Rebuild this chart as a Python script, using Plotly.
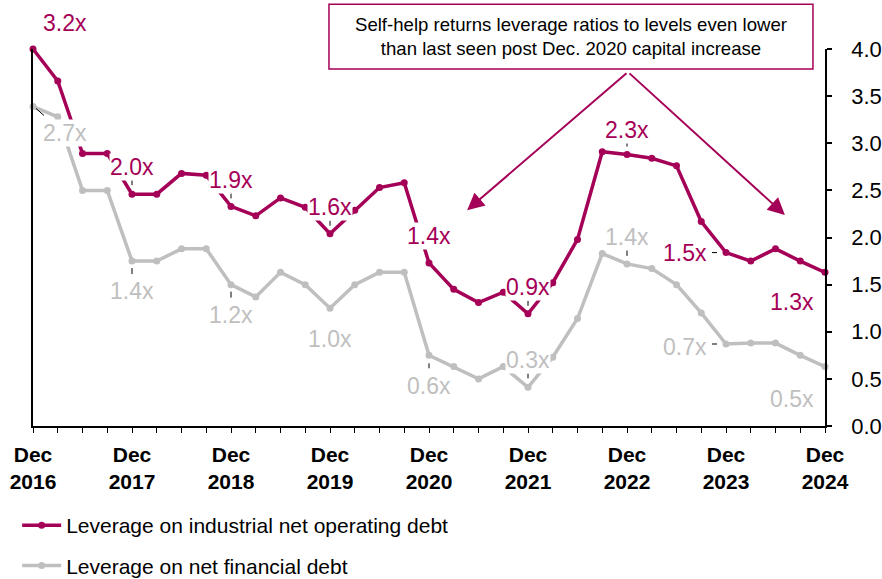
import plotly.graph_objects as go

# ---------------- data ----------------
months = ["Dec", "Mar", "Jun", "Sep"]
quarters = []
for yr in range(2016, 2025):
    for m in months:
        if m == "Dec":
            quarters.append(f"Dec {yr}")
        else:
            quarters.append(f"{m} {yr + 1}")
quarters = quarters[:33]

industrial = [4.00, 3.66, 2.89, 2.89, 2.46, 2.46, 2.68, 2.66, 2.33, 2.23, 2.42,
              2.32, 2.04, 2.29, 2.53, 2.58, 1.73, 1.45, 1.31, 1.42, 1.19, 1.52,
              1.98, 2.91, 2.88, 2.84, 2.76, 2.17, 1.84, 1.75, 1.88, 1.75, 1.63]
financial = [3.39, 3.28, 2.50, 2.50, 1.75, 1.75, 1.88, 1.88, 1.50, 1.37, 1.63,
             1.50, 1.25, 1.50, 1.63, 1.63, 0.75, 0.63, 0.50, 0.63, 0.41, 0.73,
             1.14, 1.83, 1.72, 1.67, 1.50, 1.20, 0.87, 0.88, 0.88, 0.75, 0.63]

label_idx_ind = [0, 4, 8, 12, 16, 20, 24, 28, 32]
label_txt_ind = ["3.2x", "2.0x", "1.9x", "1.6x", "1.4x", "0.9x", "2.3x", "1.5x", "1.3x"]
label_idx_fin = [0, 4, 8, 12, 16, 20, 24, 28, 32]
label_txt_fin = ["2.7x", "1.4x", "1.2x", "1.0x", "0.6x", "0.3x", "1.4x", "0.7x", "0.5x"]

yticks = [0.0, 0.5, 1.0, 1.5, 2.0, 2.5, 3.0, 3.5, 4.0]
name_ind = "Leverage on industrial net operating debt"
name_fin = "Leverage on net financial debt"
note = "Self-help returns leverage ratios to levels even lower<br>than last seen post Dec. 2020 capital increase"

# ---------------- style ----------------
PINK = "#A50057"
GREY = "#BFBFBF"
FONT = "Arial, Liberation Sans, sans-serif"

# label offsets (xshift, yshift) in px, and leader tick (dx0, dy0, dx1, dy1) or None
off_ind = [(32, 26, None), (0, 27, (0, 9, 0, 14)), (0, 26, (0, 8, 0, 13)),
           (0, 27, (0, 8, 0, 13)), (0, 27, None), (0, 27, (0, 8, 0, 13)),
           (0, 25, (0, 8, 0, 13)), (-41, 0, (-9, 0, -14, 0)), (-33, -30, None)]
off_fin = [(32, -27, (3, -2, 11, -9)), (0, -30, (0, -7, 0, -13)), (0, -30, (0, -7, 0, -13)),
           (0, -31, None), (0, -31, (0, -8, 0, -13)), (0, 27, (0, 9, 0, 14)),
           (0, 27, (0, 8, 0, 14)), (-41, -3, (-9, 0, -14, 0)), (-33, -32, None)]

x = list(range(len(quarters)))

fig = go.Figure()
fig.add_trace(go.Scatter(x=x, y=industrial, mode="lines+markers", name=name_ind,
                         line=dict(color=PINK, width=3.5), marker=dict(color=PINK, size=7),
                         cliponaxis=False, legendgroup="a"))
fig.add_trace(go.Scatter(x=x, y=financial, mode="lines+markers", name=name_fin,
                         line=dict(color=GREY, width=3.5), marker=dict(color=GREY, size=7),
                         cliponaxis=False, legendgroup="b"))

annotations = []
shapes = []
for series, idxs, txts, offs, col in [(industrial, label_idx_ind, label_txt_ind, off_ind, PINK),
                                      (financial, label_idx_fin, label_txt_fin, off_fin, GREY)]:
    for i, t, (xs, ys, tick) in zip(idxs, txts, offs):
        annotations.append(dict(x=i, y=series[i], xref="x", yref="y", text=t, showarrow=False,
                                xanchor="center", yanchor="middle",
                                xshift=xs, yshift=ys, bgcolor="white", borderpad=0,
                                font=dict(family=FONT, size=23, color=col)))
        if tick is not None:
            shapes.append(dict(type="line", xref="x", yref="y", xsizemode="pixel", ysizemode="pixel",
                               xanchor=i, yanchor=series[i], x0=tick[0], y0=tick[1], x1=tick[2], y1=tick[3],
                               line=dict(color="black", width=1)))

# note box + arrows
shapes.append(dict(type="rect", xref="paper", yref="paper", x0=0.3737, x1=0.9848, y0=0.947, y1=1.119,
                   line=dict(color=PINK, width=1.5), fillcolor="rgba(0,0,0,0)", layer="above"))
annotations.append(dict(x=0.6793, y=1.033, xref="paper", yref="paper", text=note, showarrow=False,
                        xanchor="center", yanchor="middle",
                        align="center", font=dict(family=FONT, size=18.6, color="black")))
for tx, ty in [(17.54, 2.29), (30.38, 2.24)]:
    annotations.append(dict(x=tx, y=ty, xref="x", yref="y", ax=24.04, ay=3.756, axref="x", ayref="y",
                            text="", showarrow=True, arrowhead=2, arrowsize=1.7, arrowwidth=2,
                            arrowcolor=PINK))

ticktext = [("Dec<br>" + q.split()[1]) if q.startswith("Dec") else "" for q in quarters]

fig.update_layout(
    width=882, height=579,
    margin=dict(l=33, r=57, t=49, b=153, autoexpand=False),
    plot_bgcolor="white", paper_bgcolor="white",
    font=dict(family=FONT, size=21, color="black"),
    showlegend=True,
    legend=dict(x=-0.02, y=-0.2095, xanchor="left", yanchor="top", traceorder="grouped",
                tracegroupgap=10, itemwidth=39, font=dict(family=FONT, size=21, color="black"),
                bgcolor="rgba(0,0,0,0)"),
    annotations=annotations,
    shapes=shapes,
    xaxis=dict(range=[0, 32], tickvals=x, ticktext=ticktext, ticks="outside", ticklen=5,
               tickwidth=1, tickcolor="black", showline=True, linecolor="black", linewidth=1.5,
               showgrid=False, zeroline=False, tickangle=0, ticklabelstandoff=4,
               tickfont=dict(family=FONT, size=21, color="black", weight="bold")),
    yaxis=dict(range=[0, 4], side="right", tickvals=yticks, tickformat=".1f", ticks="outside",
               ticklen=5, tickwidth=1.5, tickcolor="black", showline=True, mirror=True,
               linecolor="black", linewidth=1.5, showgrid=False, zeroline=False,
               tickfont=dict(family=FONT, size=22, color="black"), ticklabelstandoff=15),
)

fig.write_html("out.html")
